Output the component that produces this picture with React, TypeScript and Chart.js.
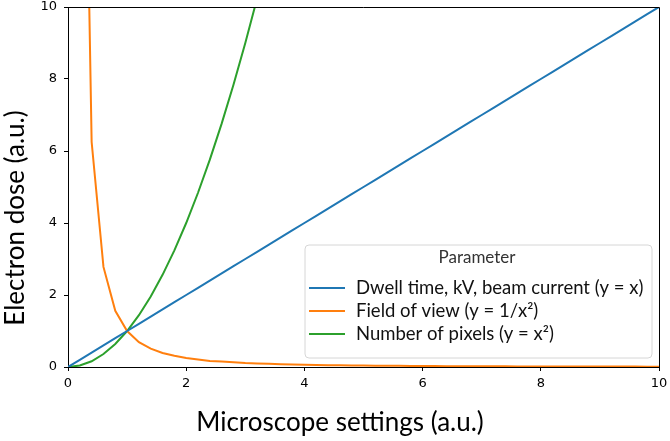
import React, { useEffect, useRef } from "react";
import { Chart, registerables } from "chart.js";

Chart.register(...registerables);

// x grid of the sampled settings
const xValues = [
  0, 0.2, 0.4, 0.6, 0.8, 1.0, 1.2, 1.4, 1.6, 1.8, 2.0, 2.2, 2.4, 2.6, 2.8, 3.0, 3.2, 3.4,
  3.6, 3.8, 4.0, 4.2, 4.4, 4.6, 4.8, 5.0, 5.2, 5.4, 5.6, 5.8, 6.0, 6.2, 6.4, 6.6, 6.8,
  7.0, 7.2, 7.4, 7.6, 7.8, 8.0, 8.2, 8.4, 8.6, 8.8, 9.0, 9.2, 9.4, 9.6, 9.8, 10.0,
];

// Dwell time, kV, beam current (y = x)
const linearY = [
  0, 0.2, 0.4, 0.6, 0.8, 1.0, 1.2, 1.4, 1.6, 1.8, 2.0, 2.2, 2.4, 2.6, 2.8, 3.0, 3.2, 3.4,
  3.6, 3.8, 4.0, 4.2, 4.4, 4.6, 4.8, 5.0, 5.2, 5.4, 5.6, 5.8, 6.0, 6.2, 6.4, 6.6, 6.8,
  7.0, 7.2, 7.4, 7.6, 7.8, 8.0, 8.2, 8.4, 8.6, 8.8, 9.0, 9.2, 9.4, 9.6, 9.8, 10.0,
];

// Field of view (y = 1/x^2), starts at x = 0.2
const fovY = [
  null, 25, 6.25, 2.78, 1.56, 1.0, 0.69, 0.51, 0.39, 0.31, 0.25, 0.21, 0.17, 0.15, 0.13,
  0.11, 0.098, 0.087, 0.077, 0.069, 0.063, 0.057, 0.052, 0.047, 0.043, 0.04, 0.037,
  0.034, 0.032, 0.03, 0.028, 0.026, 0.024, 0.023, 0.022, 0.02, 0.019, 0.018, 0.017,
  0.016, 0.016, 0.015, 0.014, 0.014, 0.013, 0.012, 0.012, 0.011, 0.011, 0.01, 0.01,
];

// Number of pixels (y = x^2), listed until it leaves the plot
const pixelsY = [
  0, 0.04, 0.16, 0.36, 0.64, 1.0, 1.44, 1.96, 2.56, 3.24, 4.0, 4.84, 5.76, 6.76, 7.84,
  9.0, 10.24, 11.56,
];

const seriesLabels = [
  "Dwell time, kV, beam current (y = x)",
  "Field of view (y = 1/x²)",
  "Number of pixels (y = x²)",
];
const seriesColors = ["#1f77b4", "#ff7f0e", "#2ca02c"];

const xTicks = [0, 2, 4, 6, 8, 10];
const yTicks = [0, 2, 4, 6, 8, 10];

const legendTitle = "Parameter";
const xTitle = "Microscope settings (a.u.)";
const yTitle = "Electron dose (a.u.)";

const TITLE_FONT = "Lato, 'Open Sans', sans-serif";
const TICK_FONT = "'DejaVu Sans'";

function toPoints(ys: (number | null)[]) {
  return ys.map((y, i) => ({ x: xValues[i], y }));
}

const decorPlugin = {
  id: "decor",
  afterDatasetsDraw(chart: any) {
    const { ctx, chartArea } = chart;
    ctx.save();
    // top and right spines
    ctx.strokeStyle = "#000";
    ctx.lineWidth = 1;
    ctx.beginPath();
    ctx.moveTo(chartArea.left, chartArea.top + 0.5);
    ctx.lineTo(chartArea.right + 0.5, chartArea.top + 0.5);
    ctx.lineTo(chartArea.right + 0.5, chartArea.bottom);
    ctx.stroke();

    // legend box
    const bx = 305, by = 245, bw = 347, bh = 113, r = 4;
    ctx.beginPath();
    ctx.moveTo(bx + r, by);
    ctx.lineTo(bx + bw - r, by);
    ctx.quadraticCurveTo(bx + bw, by, bx + bw, by + r);
    ctx.lineTo(bx + bw, by + bh - r);
    ctx.quadraticCurveTo(bx + bw, by + bh, bx + bw - r, by + bh);
    ctx.lineTo(bx + r, by + bh);
    ctx.quadraticCurveTo(bx, by + bh, bx, by + bh - r);
    ctx.lineTo(bx, by + r);
    ctx.quadraticCurveTo(bx, by, bx + r, by);
    ctx.closePath();
    ctx.fillStyle = "rgba(255,255,255,0.85)";
    ctx.fill();
    ctx.strokeStyle = "#d6d6d6";
    ctx.stroke();

    ctx.fillStyle = "#333";
    ctx.font = `17px ${TITLE_FONT}`;
    ctx.textAlign = "center";
    ctx.textBaseline = "middle";
    ctx.fillText(legendTitle, 477, 258);

    const rows = [288, 311, 334];
    chart.data.datasets.forEach((ds: any, i: number) => {
      const y = rows[i];
      ctx.strokeStyle = ds.borderColor;
      ctx.lineWidth = 2;
      ctx.beginPath();
      ctx.moveTo(bx + 4, y);
      ctx.lineTo(bx + 40, y);
      ctx.stroke();
      ctx.fillStyle = "#111";
      ctx.font = `18.5px ${TITLE_FONT}`;
      ctx.textAlign = "left";
      ctx.textBaseline = "middle";
      ctx.fillText(ds.label, bx + 51, y);
    });

    // axis titles, centred on the figure
    ctx.fillStyle = "#000";
    ctx.font = `26px ${TITLE_FONT}`;
    ctx.textAlign = "center";
    ctx.textBaseline = "middle";
    ctx.fillText(xTitle, 340, 423);
    ctx.translate(16, 218);
    ctx.rotate(-Math.PI / 2);
    ctx.fillText(yTitle, 0, 0);
    ctx.restore();
  },
};

export default function App() {
  const canvasRef = useRef<HTMLCanvasElement | null>(null);

  useEffect(() => {
    if (!canvasRef.current) return;
    const datasets = [linearY, fovY, pixelsY].map((ys, i) => ({
      label: seriesLabels[i],
      data: toPoints(ys),
      borderColor: seriesColors[i],
      backgroundColor: seriesColors[i],
      borderWidth: 2,
      pointRadius: 0,
      tension: 0,
      fill: false,
      spanGaps: false,
    }));
    const chart = new Chart(canvasRef.current, {
      type: "line",
      data: { datasets },
      plugins: [decorPlugin],
      options: {
        animation: false,
        responsive: false,
        maintainAspectRatio: false,
        layout: { padding: { top: 7, right: 11, left: 0, bottom: 0 } },
        plugins: { legend: { display: false }, tooltip: { enabled: false } },
        scales: {
          x: {
            type: "linear",
            min: 0,
            max: 10,
            afterFit: (s: any) => {
              s.height = 74;
              s.paddingLeft = 0;
              s.paddingRight = 0;
            },
            afterBuildTicks: (s: any) => {
              s.ticks = xTicks.map((v) => ({ value: v }));
            },
            grid: {
              drawOnChartArea: false,
              drawTicks: true,
              tickLength: 4,
              color: "#000",
            },
            border: { display: true, color: "#000", width: 1 },
            ticks: {
              color: "#000",
              padding: 5,
              maxRotation: 0,
              font: { family: TICK_FONT, size: 13 },
            },
          },
          y: {
            type: "linear",
            min: 0,
            max: 10,
            afterFit: (s: any) => {
              s.width = 68;
              s.paddingTop = 0;
              s.paddingBottom = 0;
            },
            afterBuildTicks: (s: any) => {
              s.ticks = yTicks.map((v) => ({ value: v }));
            },
            grid: {
              drawOnChartArea: false,
              drawTicks: true,
              tickLength: 4,
              color: "#000",
            },
            border: { display: true, color: "#000", width: 1 },
            ticks: {
              color: "#000",
              padding: 7,
              font: { family: TICK_FONT, size: 13 },
            },
          },
        },
      },
    } as any);
    return () => chart.destroy();
  }, []);

  return (
    <div style={{ position: "fixed", left: 0, top: 0, width: 670, height: 441, background: "#fff" }}>
      <canvas ref={canvasRef} width={670} height={441} style={{ width: 670, height: 441, display: "block" }} />
    </div>
  );
}
